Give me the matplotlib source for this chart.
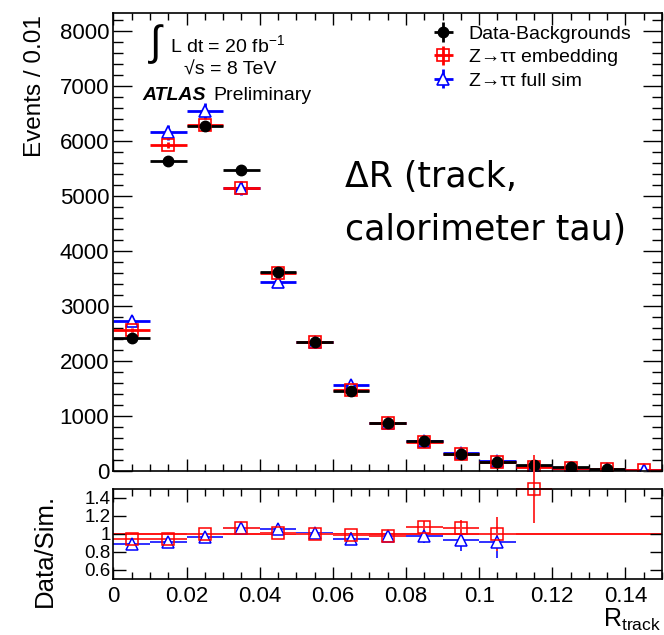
import numpy as np
import matplotlib
matplotlib.use("Agg")
import matplotlib.pyplot as plt
from matplotlib.ticker import MultipleLocator

plt.rcParams['font.family'] = ['Liberation Sans', 'DejaVu Sans']
plt.rcParams['mathtext.fontset'] = 'custom'
plt.rcParams['mathtext.rm'] = 'Liberation Sans'
plt.rcParams['mathtext.it'] = 'Liberation Sans:italic'
plt.rcParams['mathtext.bf'] = 'Liberation Sans:bold'

# ---- data ----
bin_centers = [0.005, 0.015, 0.025, 0.035, 0.045, 0.055, 0.065, 0.075,
               0.085, 0.095, 0.105, 0.115, 0.125, 0.135, 0.145]
data_bkg = [2413, 5636, 6273, 5467, 3618, 2352, 1461, 867,
            540, 303, 164, 109, 67, 42, np.nan]
data_err = [60, 80, 90, 80, 70, 55, 45, 35, 28, 22, 18, 14, 12, 10, 0]
emb = [2564, 5927, 6290, 5151, 3600, 2352, 1473, 879,
       536, 309, 164, 73, 60, 35, 15]
emb_err = [40, 60, 60, 55, 45, 40, 30, 25, 20, 15, 12, 10, 8, 6, 4]
fullsim = [2733, 6158, 6551, 5151, 3442, 2340, 1558, 879,
           550, 321, 178, 95, 60, 38, 15]
fullsim_err = [80, 130, 140, 130, 100, 80, 65, 50, 40, 32, 28, 20, 15, 12, 8]

ratio_emb = [0.94, 0.945, 1.0, 1.062, 1.015, 1.0, 0.99, 0.98, 1.08, 1.07, 1.0, 1.5]
ratio_emb_err = [0.02, 0.02, 0.02, 0.02, 0.02, 0.02, 0.03, 0.04, 0.07, 0.09, 0.19, 0.38]
ratio_full = [0.89, 0.915, 0.965, 1.062, 1.06, 1.015, 0.94, 0.978, 0.978, 0.93, 0.91]
ratio_full_err = [0.02, 0.02, 0.02, 0.03, 0.03, 0.03, 0.04, 0.05, 0.08, 0.12, 0.18]

half_width = 0.005
W, H = 664, 635

fig = plt.figure(figsize=(W / 100, H / 100), dpi=100)
ax = fig.add_axes([113.5 / W, 1 - 471 / H, 548.5 / W, 458 / H])
rax = fig.add_axes([113.5 / W, 1 - 579 / H, 548.5 / W, 90 / H])

x = np.array(bin_centers)

# main panel: blue, then red, then black on top
h_full = ax.errorbar(x, fullsim, xerr=half_width, yerr=fullsim_err, fmt='^', color='#0000ff',
                     mfc='white', mec='#0000ff', ms=8, mew=1.2, lw=2, capsize=0)
h_emb = ax.errorbar(x, emb, xerr=half_width, yerr=emb_err, fmt='s', color='#ff0000',
                    mfc='none', mec='#ff0000', ms=8, mew=1.2, lw=2, capsize=0)
h_data = ax.errorbar(x, data_bkg, xerr=half_width, yerr=data_err, fmt='o', color='black',
                     ms=7.5, lw=2, capsize=0)

ax.set_xlim(0, 0.15)
ax.set_ylim(0, 8330)
ax.yaxis.set_major_locator(MultipleLocator(1000))
ax.yaxis.set_minor_locator(MultipleLocator(200))
ax.xaxis.set_major_locator(MultipleLocator(0.02))
ax.xaxis.set_minor_locator(MultipleLocator(0.005))
ax.tick_params(axis='both', which='both', direction='in', top=True, right=True, width=1)
ax.tick_params(axis='y', which='major', length=14, labelsize=16, pad=3)
ax.tick_params(axis='y', which='minor', length=7.5)
ax.tick_params(axis='x', which='major', length=8.5, labelbottom=False)
ax.tick_params(axis='x', which='minor', length=5)
for s in ax.spines.values():
    s.set_linewidth(1.2)

leg = ax.legend([h_data, h_emb, h_full],
                ['Data-Backgrounds', 'Z\u2192\u03c4\u03c4 embedding', 'Z\u2192\u03c4\u03c4 full sim'],
                loc='upper left', bbox_to_anchor=((425 - 113.5) / 548.5, (471 - 25) / 458),
                frameon=False, fontsize=14, handlelength=1.9, handletextpad=0.35,
                labelspacing=0.3, borderaxespad=0, borderpad=0)

# ratio panel
re = np.array(ratio_emb)
rf = np.array(ratio_full)
rax.axhline(1.0, color='#ff0000', lw=1.3, zorder=1)
rax.errorbar(x[:len(rf)], rf, xerr=half_width, yerr=ratio_full_err, fmt='^', color='#3030ff',
             mfc='white', mec='#0000ff', ms=8, mew=1.1, lw=1.4, capsize=0)
rax.errorbar(x[:len(re)], re, xerr=half_width, yerr=ratio_emb_err, fmt='s', color='#ff3030',
             mfc='none', mec='#ff0000', ms=8, mew=1.1, lw=1.4, capsize=0, clip_on=False)
rax.set_xlim(0, 0.15)
rax.set_ylim(0.5, 1.5)
rax.set_yticks([0.6, 0.8, 1.0, 1.2, 1.4])
rax.set_yticklabels(['0.6', '0.8', '1', '1.2', '1.4'])
rax.xaxis.set_minor_locator(MultipleLocator(0.005))
rax.set_xticks([0, 0.02, 0.04, 0.06, 0.08, 0.1, 0.12, 0.14])
rax.set_xticklabels(['0', '0.02', '0.04', '0.06', '0.08', '0.1', '0.12', '0.14'])
rax.tick_params(axis='both', which='both', direction='in', top=True, right=True, width=1)
rax.tick_params(axis='x', which='major', length=9, labelsize=16, pad=5)
rax.tick_params(axis='x', which='minor', length=5)
rax.tick_params(axis='y', which='major', length=9, labelsize=13.5, pad=2)
for s in rax.spines.values():
    s.set_linewidth(1.2)

# labels
fig.text(35 / W, 1 - 15 / H, 'Events / 0.01', rotation=90, ha='center', va='top', fontsize=17.5)
fig.text(45 / W, 1 - 550 / H, 'Data/Sim.', rotation=90, ha='center', va='center', fontsize=18.5)
fig.text(661 / W, 1 - 627 / H, r'$\mathrm{R}_{\mathrm{track}}$', ha='right', va='baseline', fontsize=18)

# ATLAS block
fig.text(156 / W, 1 - 44 / H, '\u222b', ha='center', va='center', fontsize=30)
fig.text(170 / W, 1 - 52 / H, r'L dt = 20 fb$^{\mathrm{-1}}$', ha='left', va='baseline', fontsize=14)
fig.text(184 / W, 1 - 75 / H, '\u221as = 8 TeV', ha='left', va='baseline', fontsize=14)
fig.text(142 / W, 1 - 100 / H, 'ATLAS', ha='left', va='baseline', fontsize=14,
         fontweight='bold', fontstyle='italic')
fig.text(213 / W, 1 - 100 / H, 'Preliminary', ha='left', va='baseline', fontsize=14)

# big annotation
fig.text(345 / W, 1 - 187 / H, '\u0394R (track,', ha='left', va='baseline', fontsize=25,
         family='DejaVu Sans')
fig.text(345 / W, 1 - 240 / H, 'calorimeter tau)', ha='left', va='baseline', fontsize=25,
         family='DejaVu Sans')

fig.savefig('out.png', dpi=100)
